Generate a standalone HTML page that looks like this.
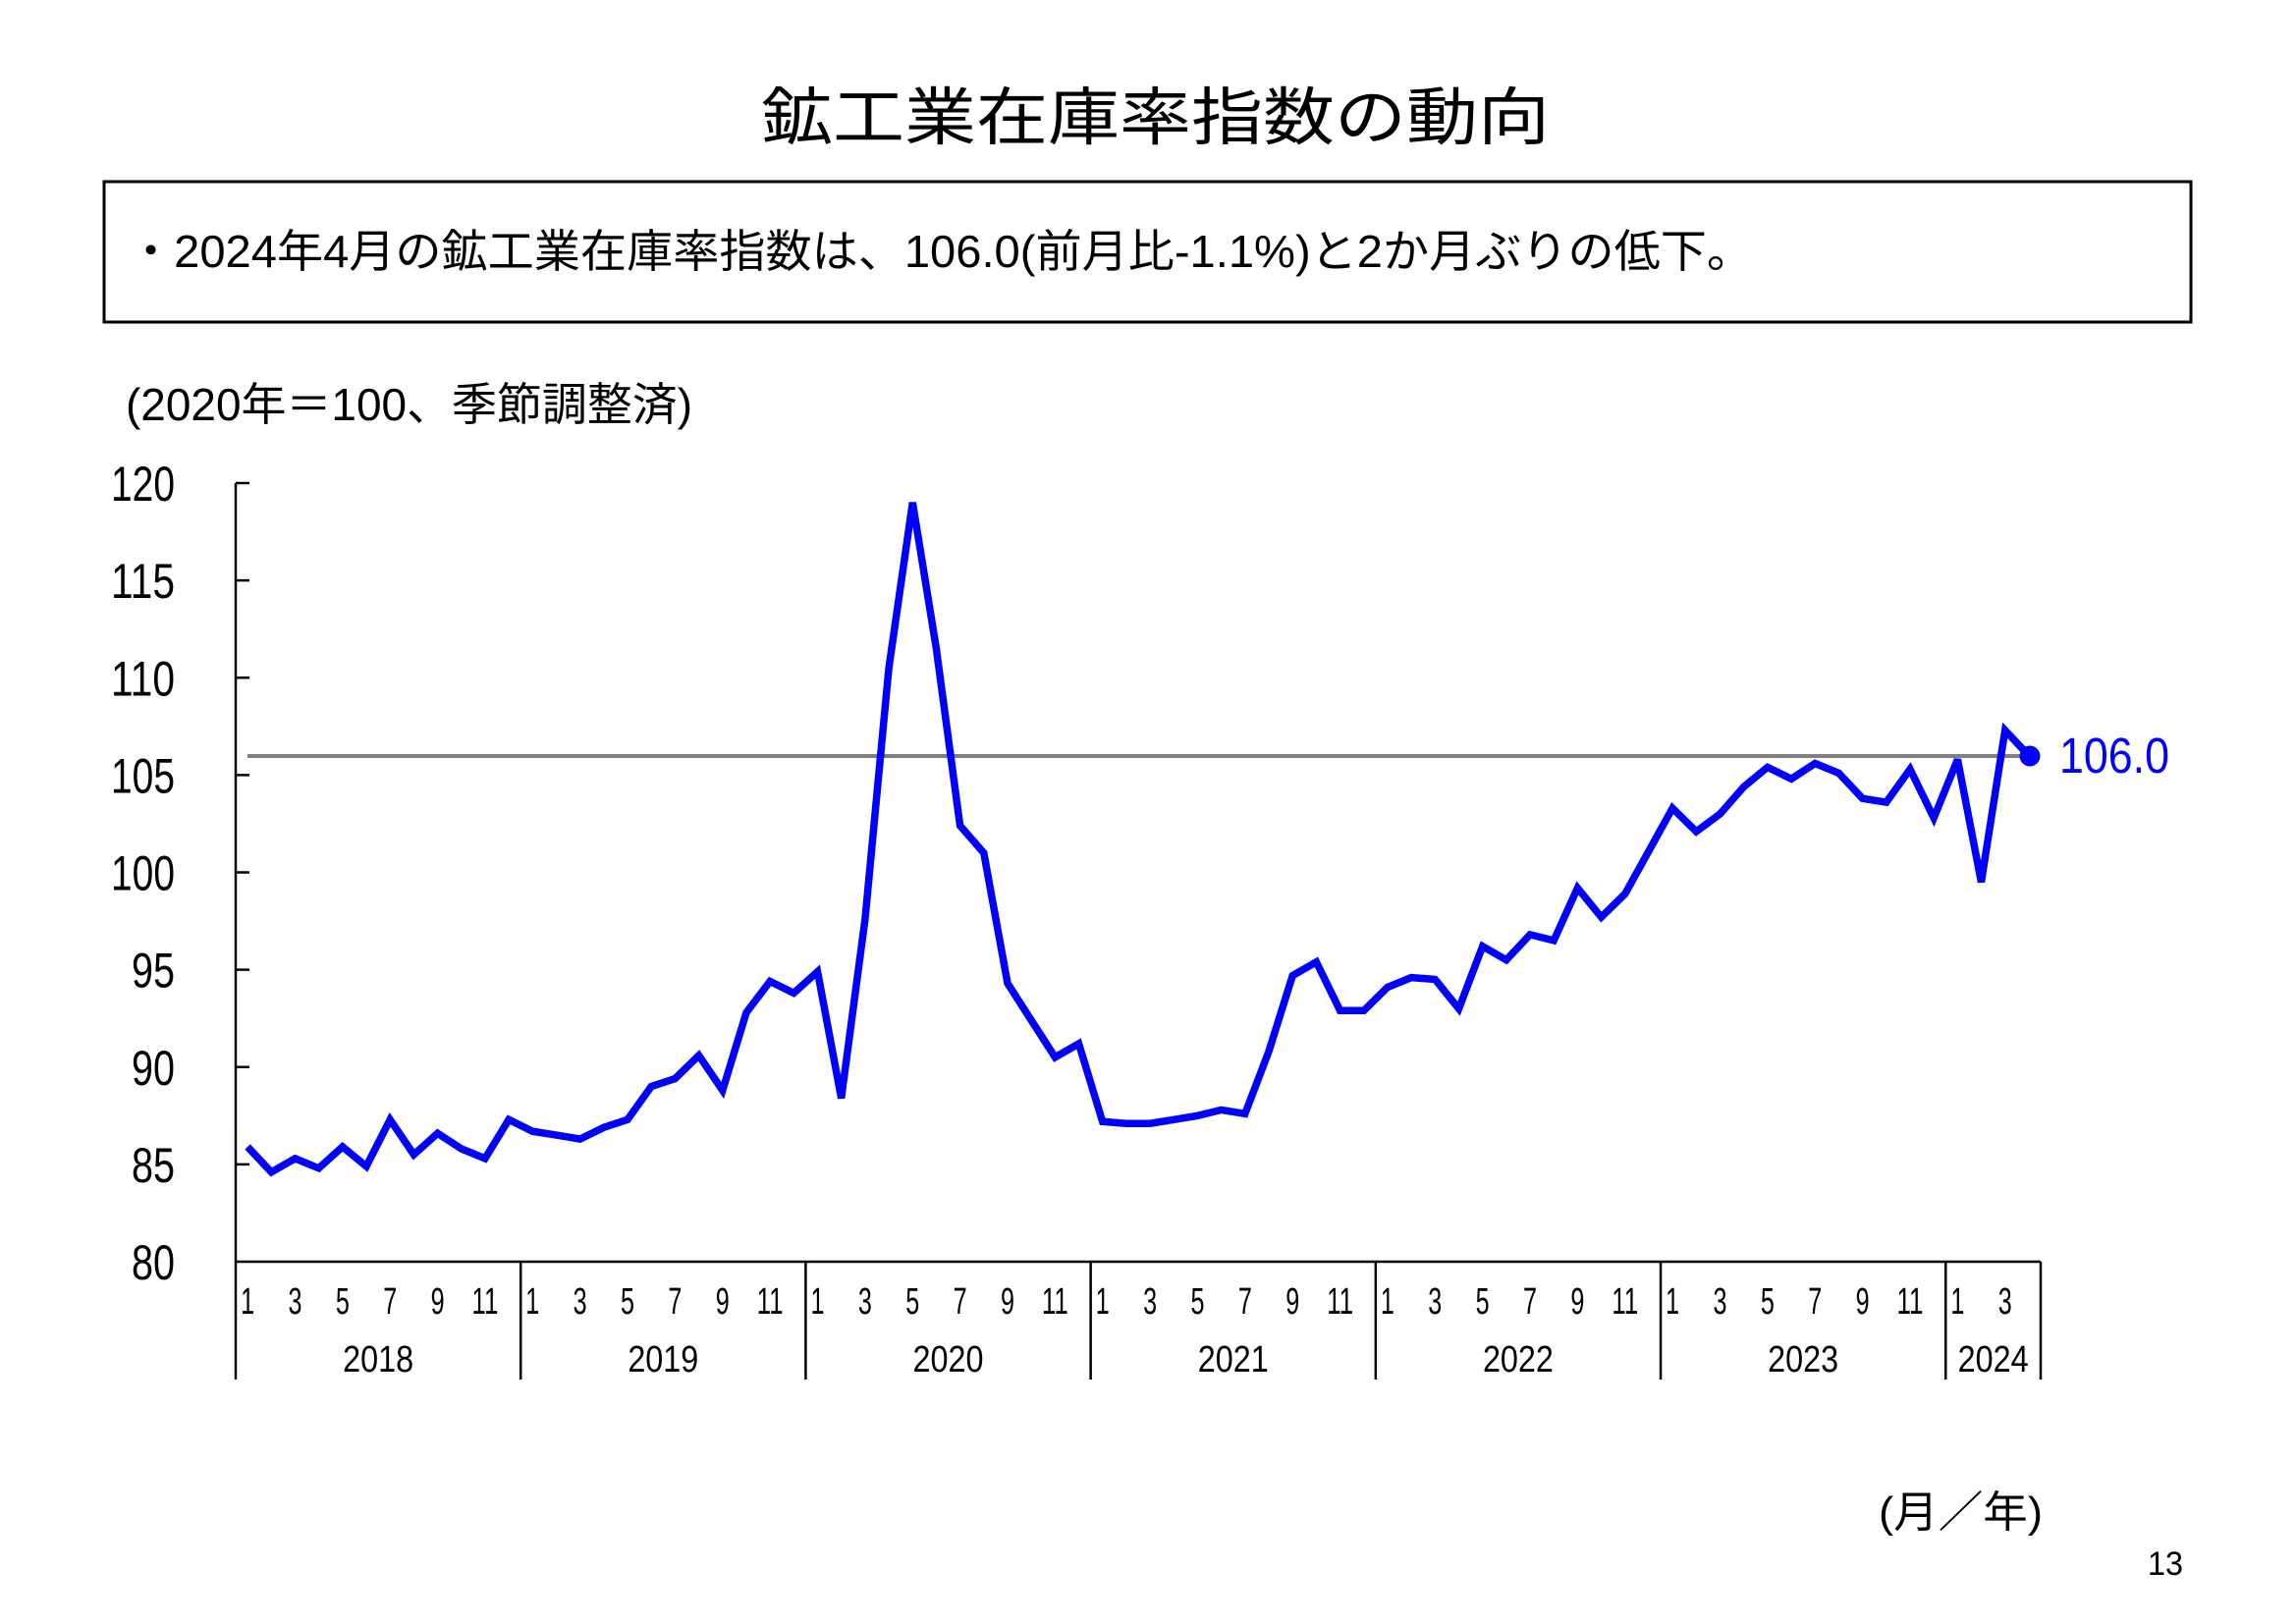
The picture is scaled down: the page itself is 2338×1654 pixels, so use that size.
<!DOCTYPE html>
<html><head><meta charset="utf-8"><style>
html,body{margin:0;padding:0;background:#fff;}
svg{display:block;}
text{font-family:"Liberation Sans","Noto Sans CJK JP",sans-serif;}
</style></head><body>
<svg id="s" width="2338" height="1654" viewBox="0 0 2338 1654" xmlns="http://www.w3.org/2000/svg">
<rect width="2338" height="1654" fill="#fff"/>
<text x="775" y="142" font-size="64" textLength="803" lengthAdjust="spacingAndGlyphs">鉱工業在庫率指数の動向</text>
<rect x="106" y="185" width="2125" height="143" fill="none" stroke="#000" stroke-width="3"/>
<text x="130" y="272" font-size="46" textLength="1655" lengthAdjust="spacingAndGlyphs">・2024年4月の鉱工業在庫率指数は、106.0(前月比-1.1%)と2か月ぶりの低下。</text>
<text x="128" y="428" font-size="46" textLength="577" lengthAdjust="spacingAndGlyphs">(2020年＝100、季節調整済)</text>
<text x="1913" y="1555" font-size="44" textLength="167" lengthAdjust="spacingAndGlyphs">(月／年)</text>
<text x="2187" y="1604" font-size="34" textLength="36" lengthAdjust="spacingAndGlyphs">13</text>
<g id="ax" stroke="#000" stroke-width="2.5" fill="none"></g>
<g id="lbl" font-size="38"></g>
<line x1="252" y1="770" x2="2067" y2="770" stroke="#808080" stroke-width="4"/>
<polyline id="ln" fill="none" stroke="#0000ff" stroke-width="7.5" stroke-linejoin="miter" stroke-miterlimit="3"/>
<circle cx="2067" cy="770" r="10.5" fill="#0000ff"/>
<text x="2097" y="787" font-size="51" fill="#0000ff" textLength="112" lengthAdjust="spacingAndGlyphs">106.0</text>
</svg>
<script>
var NS="http://www.w3.org/2000/svg";
function el(p,t,a,txt){var e=document.createElementNS(NS,t);for(var k in a)e.setAttribute(k,a[k]);if(txt!==undefined)e.textContent=txt;p.appendChild(e);return e;}
var ax=document.getElementById('ax'),lbl=document.getElementById('lbl');
var X0=240,X1=2078,Y80=1285,Y120=492;
var step=(X1-X0)/76;
function yv(v){return Y80-(v-80)*(Y80-Y120)/40;}
el(ax,'line',{x1:X0,y1:Y120,x2:X0,y2:1405});
el(ax,'line',{x1:X0,y1:Y80,x2:X1,y2:Y80});
el(ax,'line',{x1:X1,y1:Y80,x2:X1,y2:1405});
for(var v=80;v<=120;v+=5){var y=yv(v);
 if(v>80)el(ax,'line',{x1:X0,y1:y,x2:X0+14,y2:y});
 el(lbl,'text',{x:178,y:y+18,'font-size':50,'text-anchor':'end',textLength:(v>=100?65:44),lengthAdjust:'spacingAndGlyphs'},String(v));}
for(var yr=0;yr<7;yr++){
 var xs=X0+yr*12*step;
 if(yr>0)el(ax,'line',{x1:xs,y1:Y80,x2:xs,y2:1405});
 var nm=(yr<6)?12:4;
 for(var m=1;m<=nm;m+=2){var cx=xs+(m-0.5)*step;var s=String(m);
  el(lbl,'text',{x:cx,y:1338,'text-anchor':'middle',textLength:(s.length>1?27:14),lengthAdjust:'spacingAndGlyphs'},s);}
 var cx2=xs+nm*step/2;
 el(lbl,'text',{x:cx2,y:1397,'text-anchor':'middle',textLength:72,lengthAdjust:'spacingAndGlyphs'},String(2018+yr));
}
var d=[85.9,84.6,85.3,84.8,85.9,84.9,87.3,85.5,86.6,85.8,85.3,87.3,
86.7,86.5,86.3,86.9,87.3,89.0,89.4,90.6,88.8,92.8,94.4,93.8,
94.9,88.4,97.6,110.5,119.0,111.5,102.4,101.0,94.3,92.4,90.5,91.2,
87.2,87.1,87.1,87.3,87.5,87.8,87.6,90.8,94.7,95.4,92.9,92.9,
94.1,94.6,94.5,93.0,96.2,95.5,96.8,96.5,99.2,97.7,98.9,101.1,
103.3,102.1,103.0,104.4,105.4,104.8,105.6,105.1,103.8,103.6,105.3,102.8,
105.8,99.5,107.3,106.0];
var pts=d.map(function(v,i){return (X0+(i+0.5)*step).toFixed(1)+','+yv(v).toFixed(1);}).join(' ');
document.getElementById('ln').setAttribute('points',pts);
</script>
</body></html>
